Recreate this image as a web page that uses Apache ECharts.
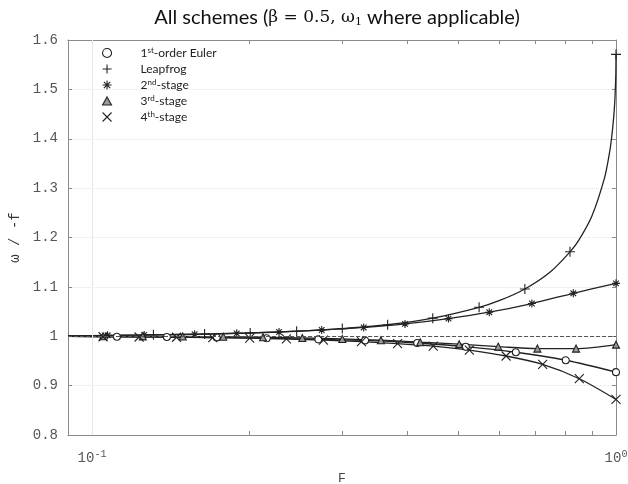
<!DOCTYPE html>
<html>
<head>
<meta charset="utf-8">
<script src="https://cdn.jsdelivr.net/npm/echarts@6/dist/echarts.min.js"></script>
<style>
  html, body { margin: 0; padding: 0; background: #fff; }
  #chart { width: 628px; height: 484px; }
</style>
</head>
<body>
<div id="chart"></div>
<script>
// values: F (log axis) and omega / -f for each scheme
const startF = 0.09;
const startW = 1.0;

const eulerF = [0.1116, 0.139, 0.173, 0.2155, 0.2704, 0.332, 0.4175, 0.517, 0.644, 0.802, 1.0];
const eulerW = [0.999, 0.9985, 0.9977, 0.9958, 0.9937, 0.9916, 0.9863, 0.9788, 0.9676, 0.9514, 0.9273];

const leapF = [0.131, 0.164, 0.2004, 0.2458, 0.3004, 0.3666, 0.447, 0.548, 0.670, 0.817, 1.0];
const leapW = [1.0029, 1.0045, 1.0068, 1.0102, 1.0155, 1.0233, 1.0367, 1.0586, 1.0958, 1.171, 1.5708];
// extra readings along the leapfrog curve where it turns up steeply
const leapCurveF = [0.6, 0.75, 0.85, 0.9, 0.95, 0.97, 0.98, 0.99, 0.995, 0.999];
const leapCurveW = [1.0725, 1.1308, 1.1953, 1.2442, 1.3192, 1.3662, 1.3985, 1.4437, 1.478, 1.5276];

const stage2F = [0.1071, 0.1258, 0.157, 0.1889, 0.2275, 0.2744, 0.33, 0.3957, 0.479, 0.573, 0.691, 0.829, 1.0];
const stage2W = [1.0019, 1.0026, 1.0041, 1.0059, 1.0086, 1.0127, 1.0178, 1.025, 1.0357, 1.0487, 1.0663, 1.087, 1.1071];

const stage3F = [0.105, 0.125, 0.149, 0.178, 0.212, 0.252, 0.3004, 0.356, 0.423, 0.502, 0.596, 0.708, 0.839, 1.0];
const stage3W = [1.0, 0.9998, 0.9995, 0.999, 0.998, 0.9965, 0.9945, 0.992, 0.988, 0.984, 0.979, 0.975, 0.975, 0.983];

const stage4F = [0.105, 0.123, 0.145, 0.17, 0.2, 0.235, 0.2765, 0.3268, 0.383, 0.448, 0.525, 0.617, 0.7245, 0.851, 1.0];
const stage4W = [0.999, 0.9985, 0.998, 0.997, 0.996, 0.9945, 0.992, 0.989, 0.985, 0.980, 0.972, 0.960, 0.943, 0.914, 0.872];

const xLabelTicks = [0.1, 1];
const xMinorTicks = [0.1, 0.2, 0.3, 0.4, 0.5, 0.6, 0.7, 0.8, 0.9, 1];

const ink = '#222';
const sym = {
  circle: 'path://M5,0A5,5,0,1,1,4.999,0Z',
  triangle: 'path://M5,0L10,9L0,9Z',
  plus: 'path://M5,0L5,10M0,5L10,5',
  cross: 'path://M0,0L10,10M0,10L10,0',
  star: 'path://M5,0L5,10M0,5L10,5M1.5,1.5L8.5,8.5M1.5,8.5L8.5,1.5'
};

function pts(fs, ws) {
  return fs.map((f, i) => [f, ws[i]]);
}
function curve(fs, ws, extraF, extraW) {
  let p = [[startF, startW]].concat(pts(fs, ws));
  if (extraF) p = p.concat(pts(extraF, extraW));
  return p.sort((a, b) => a[0] - b[0]);
}

const schemes = [
  { name: '1st-order Euler', label: '1{sup|st}-order Euler', f: eulerF, w: eulerW, symbol: sym.circle, size: 7, fill: '#fff' },
  { name: 'Leapfrog', label: 'Leapfrog', f: leapF, w: leapW, symbol: sym.plus, size: 10, fill: ink, exF: leapCurveF, exW: leapCurveW },
  { name: '2nd-stage', label: '2{sup|nd}-stage', f: stage2F, w: stage2W, symbol: sym.star, size: 8, fill: ink },
  { name: '3rd-stage', label: '3{sup|rd}-stage', f: stage3F, w: stage3W, symbol: sym.triangle, size: 7, fill: '#999' },
  { name: '4th-stage', label: '4{sup|th}-stage', f: stage4F, w: stage4W, symbol: sym.cross, size: 9, fill: ink }
];

const series = [];
schemes.forEach(s => {
  series.push({
    type: 'line',
    name: s.name + ' curve',
    data: curve(s.f, s.w, s.exF, s.exW),
    showSymbol: false,
    smooth: 0.3,
    lineStyle: { color: ink, width: 1.3 },
    silent: true,
    z: 2
  });
});
schemes.forEach(s => {
  series.push({
    type: 'scatter',
    name: s.name,
    data: pts(s.f, s.w),
    symbol: s.symbol,
    symbolSize: s.size,
    itemStyle: { color: s.fill, borderColor: ink, borderWidth: 1.1, opacity: 1 },
    z: 3
  });
});
// reference lines: omega/f = 1 and the 10^-1 grid line
series.push({
  type: 'line',
  name: 'ref',
  data: [],
  markLine: {
    silent: true,
    symbol: 'none',
    label: { show: false },
    data: [
      { yAxis: 1, lineStyle: { color: '#555', type: [4, 2], width: 1 } },
      { xAxis: 0.1, lineStyle: { color: '#e6e6e6', type: 'solid', width: 1 } }
    ]
  }
});

const labelNames = {};
schemes.forEach(s => { labelNames[s.name] = s.label; });

const monoFont = 'Liberation Mono';
const axisGrey = '#8a8a8a';

const chart = echarts.init(document.getElementById('chart'), null, { renderer: 'canvas' });
chart.setOption({
  animation: false,
  backgroundColor: '#fff',
  title: {
    left: 'center',
    top: 3,
    text: '{g|}{a|All schemes (}{m|β = 0.5, ω}{s|1}{a| where applicable)}',
    textStyle: {
      rich: {
        g: { width: 46 },
        a: { fontFamily: 'Lato', fontSize: 20, fontWeight: 'normal', color: '#111' },
        m: { fontFamily: 'DejaVu Serif', fontSize: 17, fontWeight: 'normal', color: '#111' },
        s: { fontFamily: 'DejaVu Serif', fontSize: 11, fontWeight: 'normal', color: '#111', verticalAlign: 'bottom', padding: [7, 0, 0, 0] }
      }
    }
  },
  grid: { left: 68, right: 12, top: 40, bottom: 49, containLabel: false, outerBoundsMode: 'none' },
  legend: {
    orient: 'vertical',
    left: 97,
    top: 41,
    itemWidth: 9,
    itemHeight: 9,
    itemGap: 2,
    data: schemes.map(s => s.name),
    itemStyle: { borderWidth: 1.1 },
    formatter: name => '{g|}' + labelNames[name],
    textStyle: {
      fontFamily: 'Lato',
      fontSize: 12,
      color: '#222',
      lineHeight: 14,
      rich: {
        g: { width: 24 },
        sup: { fontFamily: 'Lato', fontSize: 8, verticalAlign: 'top', lineHeight: 14, color: '#222' }
      }
    }
  },
  xAxis: [
    {
      type: 'log',
      logBase: 10,
      min: startF,
      max: 1,
      position: 'bottom',
      name: 'F',
      nameLocation: 'middle',
      nameGap: 37,
      nameTextStyle: { fontFamily: monoFont, fontSize: 13, color: '#444' },
      axisLine: { show: true, lineStyle: { color: axisGrey, width: 1 } },
      axisTick: { show: true, inside: true, length: 4, customValues: xMinorTicks, lineStyle: { color: axisGrey } },
      axisLabel: {
        customValues: xLabelTicks,
        margin: 14,
        formatter: v => (v < 0.5 ? '{b|10}{p|-1}' : '{b|10}{p|0}'),
        rich: {
          b: { fontFamily: monoFont, fontSize: 14, color: '#555' },
          p: { fontFamily: monoFont, fontSize: 10, color: '#555', verticalAlign: 'top', padding: [0, 0, 8, 0] }
        }
      },
      splitLine: { show: false }
    },
    {
      type: 'log',
      logBase: 10,
      min: startF,
      max: 1,
      position: 'top',
      axisLine: { show: true, lineStyle: { color: axisGrey, width: 1 } },
      axisTick: { show: true, inside: true, length: 4, customValues: xMinorTicks, lineStyle: { color: axisGrey } },
      axisLabel: { show: false },
      splitLine: { show: false }
    }
  ],
  yAxis: [
    {
      type: 'value',
      min: 0.8,
      max: 1.6,
      interval: 0.1,
      name: 'ω / -f',
      nameLocation: 'middle',
      nameGap: 46,
      nameTextStyle: { fontFamily: monoFont, fontSize: 14, color: '#333' },
      axisLine: { show: true, lineStyle: { color: axisGrey, width: 1 } },
      axisTick: { show: true, inside: true, length: 4, lineStyle: { color: axisGrey } },
      axisLabel: { fontFamily: monoFont, fontSize: 14, color: '#555', margin: 10 },
      splitLine: { show: true, lineStyle: { color: '#e4e4e4', type: 'dotted', width: 1 } }
    },
    {
      type: 'value',
      min: 0.8,
      max: 1.6,
      interval: 0.1,
      position: 'right',
      axisLine: { show: true, lineStyle: { color: axisGrey, width: 1 } },
      axisTick: { show: true, inside: true, length: 4, lineStyle: { color: axisGrey } },
      axisLabel: { show: false },
      splitLine: { show: false }
    }
  ],
  series: series
});
</script>
</body>
</html>
